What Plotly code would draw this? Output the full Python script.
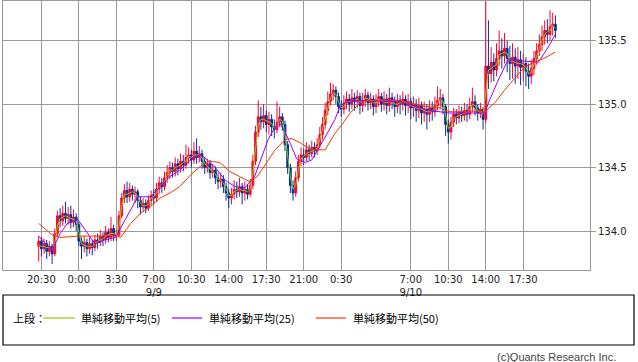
import pandas as pd
import plotly.graph_objects as go

# ---------------- data ----------------
bar_start = "2014-09-08 20:15"   # first bar; bars every 15 minutes
first_open = 133.88

closes = [
    133.92, 133.86, 133.90, 133.84, 133.88, 133.82, 133.98, 134.12, 134.08, 134.14,
    134.10, 134.13, 134.07, 134.11, 134.05, 133.92, 133.88, 133.91, 133.86, 133.90,
    133.87, 133.93, 133.91, 133.96, 133.93, 133.99, 133.95, 134.02, 133.96, 133.97,
    134.12, 134.26, 134.32, 134.27, 134.33, 134.29, 134.31, 134.24, 134.19, 134.22,
    134.18, 134.24, 134.28, 134.26, 134.33, 134.38, 134.35, 134.42, 134.46, 134.50,
    134.47, 134.53, 134.49, 134.55, 134.52, 134.58, 134.60, 134.56, 134.63, 134.58,
    134.61, 134.55, 134.50, 134.53, 134.46, 134.48, 134.42, 134.39, 134.41, 134.35,
    134.30, 134.26, 134.29, 134.33, 134.31, 134.35, 134.30, 134.33, 134.29, 134.36,
    134.55, 134.78, 134.90, 134.86, 134.91, 134.84, 134.88, 134.82, 134.80, 134.86,
    134.90, 134.84, 134.68, 134.50, 134.36, 134.30, 134.42, 134.55, 134.60, 134.58,
    134.64, 134.61, 134.66, 134.63, 134.68, 134.76, 134.84, 134.95, 135.02, 135.08,
    135.11, 135.06, 134.98, 134.96, 135.01, 135.04, 135.00, 135.05, 135.02, 135.06,
    134.99, 135.03, 135.07, 135.01, 135.04, 134.98, 135.03, 135.06, 135.00, 135.04,
    134.99, 135.05, 135.02, 134.98, 135.03, 135.00, 135.04, 134.99, 135.02, 134.97,
    135.00, 134.95, 134.99, 134.93, 134.96, 134.92, 134.97, 134.94, 134.99, 135.03,
    135.05, 134.98, 134.84, 134.78, 134.86, 134.92, 134.89, 134.94, 134.91, 134.95,
    134.92, 134.98, 135.02, 134.97, 134.93, 134.96, 134.88, 135.30, 135.24, 135.33,
    135.27, 135.36, 135.42, 135.38, 135.44, 135.36, 135.32, 135.37, 135.30, 135.35,
    135.29, 135.32, 135.26, 135.22, 135.28, 135.36, 135.42, 135.47, 135.53, 135.58,
    135.55, 135.61, 135.63, 135.58,
]

highs = [
    133.96, 133.95, 133.94, 133.93, 133.92, 133.90, 134.02, 134.16, 134.18, 134.20,
    134.23, 134.19, 134.20, 134.17, 134.14, 134.07, 133.95, 133.96, 133.94, 133.95,
    133.93, 133.97, 133.98, 134.01, 133.99, 134.04, 134.02, 134.11, 134.05, 134.01,
    134.16, 134.30, 134.37, 134.39, 134.38, 134.36, 134.35, 134.33, 134.27, 134.26,
    134.25, 134.28, 134.32, 134.33, 134.38, 134.43, 134.42, 134.47, 134.52, 134.55,
    134.54, 134.58, 134.57, 134.61, 134.60, 134.68, 134.66, 134.64, 134.70, 134.73,
    134.67, 134.64, 134.58, 134.57, 134.56, 134.53, 134.51, 134.46, 134.46, 134.44,
    134.38, 134.33, 134.34, 134.40, 134.39, 134.42, 134.38, 134.39, 134.37, 134.41,
    134.60, 134.83, 135.03, 134.98, 135.00, 134.95, 134.94, 134.92, 134.88, 135.02,
    134.98, 134.93, 134.87, 134.71, 134.53, 134.40, 134.47, 134.60, 134.66, 134.65,
    134.70, 134.68, 134.71, 134.70, 134.73, 134.82, 134.90, 135.01, 135.10, 135.17,
    135.16, 135.14, 135.09, 135.03, 135.07, 135.10, 135.08, 135.12, 135.09, 135.11,
    135.09, 135.09, 135.12, 135.10, 135.09, 135.07, 135.08, 135.12, 135.09, 135.10,
    135.08, 135.13, 135.09, 135.06, 135.08, 135.07, 135.10, 135.07, 135.08, 135.05,
    135.06, 135.04, 135.05, 135.02, 135.02, 135.00, 135.03, 135.02, 135.06, 135.14,
    135.12, 135.08, 135.00, 134.88, 134.90, 134.97, 134.96, 134.99, 134.98, 135.01,
    135.00, 135.05, 135.13, 135.07, 135.00, 135.01, 134.98, 135.81, 135.66, 135.45,
    135.40, 135.48, 135.58, 135.52, 135.56, 135.50, 135.46, 135.48, 135.44, 135.45,
    135.42, 135.40, 135.37, 135.32, 135.35, 135.42, 135.48, 135.55, 135.62, 135.66,
    135.67, 135.74, 135.72, 135.70,
]

lows = [
    133.76, 133.80, 133.82, 133.78, 133.80, 133.74, 133.80, 133.96, 134.03, 134.04,
    134.06, 134.05, 134.02, 134.03, 134.00, 133.88, 133.78, 133.83, 133.80, 133.82,
    133.81, 133.84, 133.86, 133.88, 133.88, 133.90, 133.91, 133.92, 133.92, 133.92,
    133.95, 134.10, 134.22, 134.22, 134.23, 134.24, 134.22, 134.18, 134.13, 134.15,
    134.14, 134.16, 134.20, 134.21, 134.23, 134.29, 134.30, 134.32, 134.38, 134.41,
    134.42, 134.43, 134.44, 134.46, 134.47, 134.49, 134.53, 134.50, 134.53, 134.53,
    134.54, 134.49, 134.45, 134.46, 134.41, 134.42, 134.37, 134.33, 134.34, 134.30,
    134.24, 134.18, 134.21, 134.25, 134.26, 134.27, 134.21, 134.24, 134.25, 134.27,
    134.33, 134.52, 134.74, 134.80, 134.81, 134.78, 134.76, 134.75, 134.73, 134.77,
    134.82, 134.79, 134.63, 134.45, 134.30, 134.24, 134.27, 134.39, 134.51, 134.52,
    134.55, 134.56, 134.58, 134.58, 134.60, 134.65, 134.72, 134.80, 134.91, 134.99,
    135.03, 135.00, 134.93, 134.90, 134.92, 134.96, 134.94, 134.96, 134.95, 134.97,
    134.92, 134.94, 134.98, 134.95, 134.96, 134.91, 134.93, 134.98, 134.94, 134.95,
    134.92, 134.94, 134.96, 134.90, 134.93, 134.92, 134.95, 134.91, 134.93, 134.88,
    134.90, 134.86, 134.89, 134.84, 134.86, 134.80, 134.86, 134.87, 134.90, 134.95,
    134.97, 134.92, 134.75, 134.69, 134.72, 134.82, 134.84, 134.85, 134.86, 134.87,
    134.86, 134.88, 134.94, 134.91, 134.87, 134.89, 134.80, 134.85, 135.12, 135.17,
    135.18, 135.22, 135.30, 135.28, 135.32, 135.25, 135.19, 135.20, 135.16, 135.20,
    135.15, 135.18, 135.14, 135.12, 135.16, 135.23, 135.31, 135.38, 135.42, 135.47,
    135.48, 135.50, 135.54, 135.52,
]

# simple moving average (5), one value per bar
ma5 = [
    133.89, 133.88, 133.88, 133.87, 133.87, 133.85, 133.90, 134.04, 134.10, 134.11,
    134.12, 134.11, 134.10, 134.09, 134.08, 133.99, 133.90, 133.89, 133.88, 133.88,
    133.88, 133.90, 133.92, 133.93, 133.94, 133.96, 133.97, 133.98, 133.98, 133.97,
    134.04, 134.19, 134.29, 134.29, 134.30, 134.31, 134.30, 134.27, 134.22, 134.20,
    134.20, 134.21, 134.26, 134.27, 134.30, 134.35, 134.37, 134.39, 134.44, 134.48,
    134.48, 134.50, 134.51, 134.52, 134.54, 134.55, 134.59, 134.58, 134.60, 134.60,
    134.60, 134.58, 134.53, 134.51, 134.49, 134.47, 134.45, 134.41, 134.40, 134.38,
    134.33, 134.28, 134.28, 134.31, 134.32, 134.33, 134.32, 134.32, 134.31, 134.33,
    134.45, 134.66, 134.84, 134.88, 134.88, 134.87, 134.86, 134.85, 134.81, 134.83,
    134.88, 134.87, 134.76, 134.59, 134.43, 134.33, 134.36, 134.48, 134.57, 134.59,
    134.61, 134.62, 134.63, 134.64, 134.65, 134.72, 134.80, 134.89, 134.98, 135.05,
    135.09, 135.08, 135.02, 134.97, 134.98, 135.02, 135.02, 135.03, 135.03, 135.04,
    135.02, 135.01, 135.05, 135.04, 135.03, 135.01, 135.01, 135.04, 135.03, 135.02,
    135.01, 135.02, 135.03, 135.00, 135.00, 135.01, 135.02, 135.01, 135.00, 134.99,
    134.98, 134.97, 134.97, 134.96, 134.95, 134.94, 134.94, 134.95, 134.96, 135.01,
    135.04, 135.02, 134.91, 134.81, 134.82, 134.89, 134.90, 134.91, 134.92, 134.93,
    134.93, 134.95, 135.00, 134.99, 134.95, 134.94, 134.92, 135.09, 135.27, 135.28,
    135.30, 135.31, 135.39, 135.40, 135.41, 135.40, 135.34, 135.34, 135.33, 135.32,
    135.32, 135.31, 135.29, 135.24, 135.25, 135.32, 135.39, 135.44, 135.50, 135.55,
    135.57, 135.58, 135.62, 135.60,
]

# simple moving average (25): key points
ma25_times = [
    "2014-09-08 20:15", "2014-09-08 21:30", "2014-09-08 22:15", "2014-09-08 22:55",
    "2014-09-08 23:55", "2014-09-09 00:50", "2014-09-09 01:30", "2014-09-09 02:25",
    "2014-09-09 03:25", "2014-09-09 04:20", "2014-09-09 05:30", "2014-09-09 06:40",
    "2014-09-09 07:35", "2014-09-09 08:30", "2014-09-09 09:25", "2014-09-09 10:25",
    "2014-09-09 11:20", "2014-09-09 11:45", "2014-09-09 12:45", "2014-09-09 13:40",
    "2014-09-09 14:35", "2014-09-09 15:30", "2014-09-09 16:25", "2014-09-09 17:05",
    "2014-09-09 17:40", "2014-09-09 18:20", "2014-09-09 18:45", "2014-09-09 19:15",
    "2014-09-09 19:45", "2014-09-09 20:20", "2014-09-09 21:05", "2014-09-09 21:45",
    "2014-09-09 22:20", "2014-09-09 23:00", "2014-09-09 23:55", "2014-09-10 00:25",
    "2014-09-10 01:20", "2014-09-10 06:00", "2014-09-10 07:30", "2014-09-10 08:45",
    "2014-09-10 10:40", "2014-09-10 13:55", "2014-09-10 14:15", "2014-09-10 15:10",
    "2014-09-10 16:05", "2014-09-10 18:20", "2014-09-10 18:55", "2014-09-10 19:50",
    "2014-09-10 20:30",
]
ma25_vals = [
    133.96, 133.85, 133.98, 134.06,
    134.09, 133.98, 133.90, 133.93,
    133.95, 134.09, 134.27, 134.27,
    134.35, 134.43, 134.48, 134.56,
    134.60, 134.58, 134.50, 134.40,
    134.35, 134.34, 134.43, 134.58,
    134.72, 134.82, 134.85, 134.78,
    134.69, 134.57, 134.54, 134.56,
    134.64, 134.74, 134.88, 134.99,
    135.03, 135.02, 134.98, 134.95,
    134.93, 134.93, 135.01, 135.19,
    135.35, 135.33, 135.33, 135.45,
    135.55,
]

# simple moving average (50): key points
ma50_times = [
    "2014-09-08 20:15", "2014-09-08 21:30", "2014-09-08 22:15", "2014-09-08 23:55",
    "2014-09-09 02:30", "2014-09-09 03:25", "2014-09-09 03:55", "2014-09-09 04:50",
    "2014-09-09 05:45", "2014-09-09 06:40", "2014-09-09 07:35", "2014-09-09 08:30",
    "2014-09-09 09:25", "2014-09-09 10:25", "2014-09-09 11:20", "2014-09-09 12:15",
    "2014-09-09 13:10", "2014-09-09 14:05", "2014-09-09 15:00", "2014-09-09 15:55",
    "2014-09-09 16:40", "2014-09-09 17:20", "2014-09-09 18:20", "2014-09-09 19:15",
    "2014-09-09 19:50", "2014-09-09 20:35", "2014-09-09 21:30", "2014-09-09 22:20",
    "2014-09-09 23:00", "2014-09-09 23:55", "2014-09-10 00:35", "2014-09-10 01:20",
    "2014-09-10 02:15", "2014-09-10 03:10", "2014-09-10 06:00", "2014-09-10 07:50",
    "2014-09-10 08:45", "2014-09-10 09:40", "2014-09-10 10:40", "2014-09-10 13:55",
    "2014-09-10 14:50", "2014-09-10 15:45", "2014-09-10 16:40", "2014-09-10 17:35",
    "2014-09-10 18:30", "2014-09-10 19:25", "2014-09-10 20:30",
]
ma50_vals = [
    134.06, 133.97, 133.95, 133.96,
    133.96, 133.97, 133.95, 134.06,
    134.14, 134.19, 134.26, 134.30,
    134.35, 134.44, 134.51, 134.55,
    134.54, 134.47, 134.43, 134.39,
    134.43, 134.51, 134.64, 134.72,
    134.73, 134.70, 134.65, 134.64,
    134.64, 134.77, 134.84, 134.93,
    135.01, 135.03, 135.03, 134.99,
    134.98, 134.97, 134.94, 134.94,
    135.01, 135.11, 135.20, 135.29,
    135.33, 135.36, 135.41,
]

tick_times = [
    "2014-09-08 20:30", "2014-09-09 00:00", "2014-09-09 03:30", "2014-09-09 07:00",
    "2014-09-09 10:30", "2014-09-09 14:00", "2014-09-09 17:30", "2014-09-09 21:00",
    "2014-09-10 00:30", "2014-09-10 07:00", "2014-09-10 10:30", "2014-09-10 14:00",
    "2014-09-10 17:30",
]
tick_labels = [
    "20:30", "0:00", "3:30", "7:00<br>9/9", "10:30", "14:00", "17:30", "21:00",
    "0:30", "7:00<br>9/10", "10:30", "14:00", "17:30",
]
y_ticks = [134.0, 134.5, 135.0, 135.5]
y_tick_labels = ["134.0", "134.5", "135.0", "135.5"]

legend_prefix = "上段："
legend_names = ["単純移動平均(5)", "単純移動平均(25)", "単純移動平均(50)"]
copyright_text = "(c)Quants Research Inc."

# ---------------- styles ----------------
UP = "#ff0033"
DOWN = "#003399"
MA_COLORS = ["#99cc00", "#9900ff", "#ff3300"]
GRID = "#9a9a9a"

times = pd.date_range(bar_start, periods=len(closes), freq="15min")
opens = [first_open] + closes[:-1]

fig = go.Figure()
fig.add_trace(go.Candlestick(
    x=times, open=opens, high=highs, low=lows, close=closes,
    increasing=dict(line=dict(color=UP, width=1), fillcolor=UP),
    decreasing=dict(line=dict(color=DOWN, width=1), fillcolor=DOWN),
    whiskerwidth=0, showlegend=False, hoverinfo="skip",
))
fig.add_trace(go.Scatter(x=times, y=ma5, mode="lines",
                         line=dict(color=MA_COLORS[0], width=1), showlegend=False))
fig.add_trace(go.Scatter(x=pd.to_datetime(ma25_times), y=ma25_vals, mode="lines",
                         line=dict(color=MA_COLORS[1], width=1), showlegend=False))
fig.add_trace(go.Scatter(x=pd.to_datetime(ma50_times), y=ma50_vals, mode="lines",
                         line=dict(color=MA_COLORS[2], width=1), showlegend=False))

L, R, T, B = 3, 48, 1, 92
W, H = 638, 362
pw, ph = W - L - R, H - T - B

def px_x(px):
    return (px - L) / pw

def px_y(py):
    return (H - B - py) / ph

fig.update_layout(
    width=W, height=H,
    margin=dict(l=L, r=R, t=T, b=B, pad=0),
    paper_bgcolor="white", plot_bgcolor="white",
    boxgap=0.05,
    font=dict(family="DejaVu Sans", size=10, color="#222"),
    xaxis=dict(
        type="date",
        range=["2014-09-08 16:55", "2014-09-10 23:44"],
        tickmode="array", tickvals=pd.to_datetime(tick_times), ticktext=tick_labels,
        showgrid=True, gridcolor=GRID, gridwidth=1,
        showline=True, linecolor=GRID, linewidth=1, mirror=True,
        ticks="", rangeslider=dict(visible=False), zeroline=False,
        tickfont=dict(family="DejaVu Sans", size=10, color="#222"),
    ),
    yaxis=dict(
        side="right", range=[133.693, 135.813],
        tickmode="array", tickvals=y_ticks, ticktext=y_tick_labels,
        showgrid=True, gridcolor=GRID, gridwidth=1,
        showline=True, linecolor=GRID, linewidth=1, mirror=True,
        ticks="outside", ticklen=5, tickcolor=GRID, zeroline=False,
        tickfont=dict(family="DejaVu Sans", size=10, color="#222"),
    ),
)

# legend box
shapes = [dict(type="rect", xref="paper", yref="paper",
               x0=px_x(3), x1=px_x(634), y0=px_y(345), y1=px_y(295),
               line=dict(color="black", width=1.2), fillcolor="rgba(0,0,0,0)")]
sample_x = [(43, 75), (172, 202), (316, 346)]
text_x = [79, 207, 351]
ly = px_y(318)
for (a, b), c in zip(sample_x, MA_COLORS):
    shapes.append(dict(type="line", xref="paper", yref="paper",
                       x0=px_x(a), x1=px_x(b), y0=ly, y1=ly,
                       line=dict(color=c, width=1.2)))
fig.update_layout(shapes=shapes)

ann = [dict(xref="paper", yref="paper", x=px_x(11), y=ly, text=legend_prefix,
            showarrow=False, xanchor="left", yanchor="middle",
            font=dict(family="Noto Sans CJK JP", size=11, color="#000"))]
for tx, name in zip(text_x, legend_names):
    ann.append(dict(xref="paper", yref="paper", x=px_x(tx), y=ly, text=name,
                    showarrow=False, xanchor="left", yanchor="middle",
                    font=dict(family="Noto Sans CJK JP", size=11, color="#000")))
ann.append(dict(xref="paper", yref="paper", x=px_x(618), y=px_y(357),
                text=copyright_text, showarrow=False, xanchor="right", yanchor="middle",
                font=dict(family="Liberation Sans", size=11, color="#444")))
fig.update_layout(annotations=ann)

fig.write_html("out.html")
